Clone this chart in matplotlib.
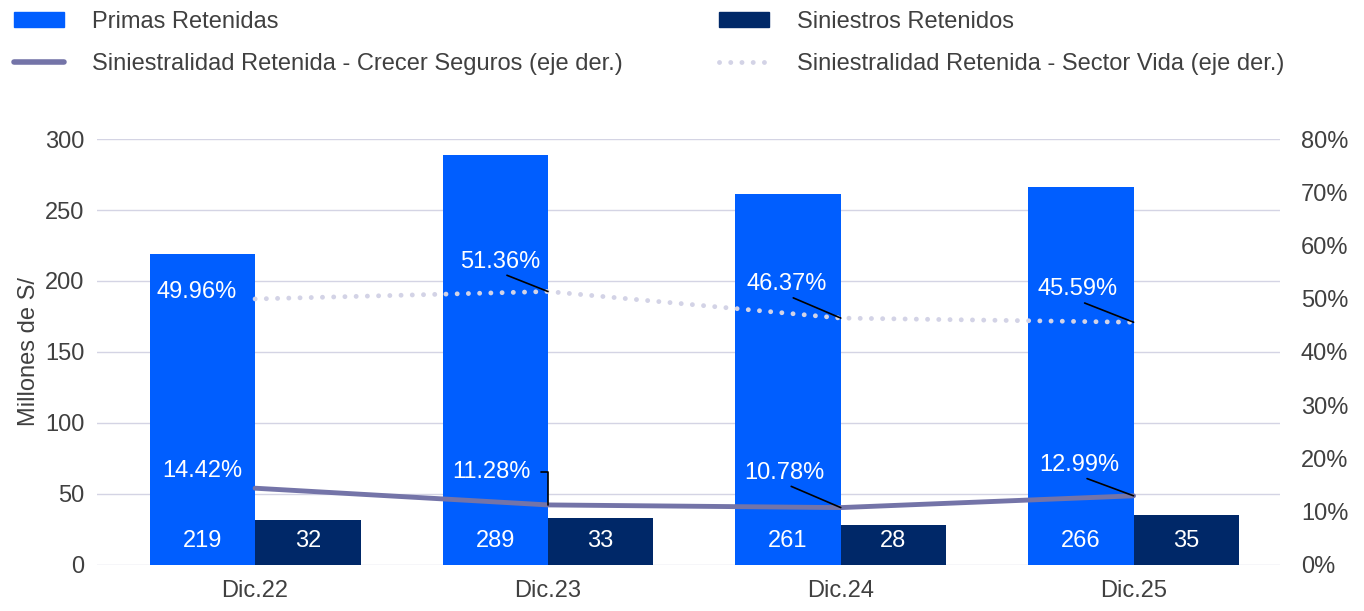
import matplotlib.pyplot as plt
from matplotlib.lines import Line2D
from matplotlib.patches import Patch
import numpy as np

plt.rcParams['font.family'] = ['Liberation Sans', 'DejaVu Sans']

# Data
periodos = ["Dic.22", "Dic.23", "Dic.24", "Dic.25"]
primas = [219, 289, 261, 266]
siniestros = [32, 33, 28, 35]
sin_crecer = [14.42, 11.28, 10.78, 12.99]
sin_sector = [49.96, 51.36, 46.37, 45.59]

c_primas = '#005EFF'
c_sini = '#002868'
c_crecer = '#7474A8'
c_sector = '#D3D3E6'
c_text = '#404040'
c_grid = '#D4D4E4'
fs = 17

fig = plt.figure(figsize=(13.64, 6.11), dpi=100)
ax = fig.add_axes([0.0711, 0.0753, 0.8673, 0.6972])
ax2 = ax.twinx()

x = np.arange(len(periodos))
w = 0.36
ax.bar(x - w / 2, primas, w, color=c_primas, zorder=2)
ax.bar(x + w / 2, siniestros, w, color=c_sini, zorder=2)

for xi, v in zip(x - w / 2, primas):
    ax.annotate(str(v), (xi, 0), xytext=(0, 24), textcoords='offset pixels',
                ha='center', va='center', color='white', fontsize=fs)
for xi, v in zip(x + w / 2, siniestros):
    ax.annotate(str(v), (xi, 0), xytext=(0, 24), textcoords='offset pixels',
                ha='center', va='center', color='white', fontsize=fs)

ax.set_xlim(-0.54, 3.5)
ax.set_ylim(0, 300)
ax.set_yticks(range(0, 301, 50))
ax.grid(axis='y', color=c_grid, linewidth=1, zorder=0)
ax.set_axisbelow(True)
ax.set_xticks(x)
ax.set_xticklabels(periodos)
ax.set_ylabel('Millones de S/', fontsize=fs, color=c_text, labelpad=4)

# lines on right axis
ax2.plot(x, sin_crecer, color=c_crecer, linewidth=3.5, solid_capstyle='round', zorder=3)
ax2.plot(x, sin_sector, color=c_sector, linewidth=3.5, linestyle=(0, (0.01, 2.3)),
         dash_capstyle='round', zorder=3)
ax2.set_ylim(0, 80)
ax2.set_yticks(range(0, 81, 10))
ax2.set_yticklabels([f'{t}%' for t in range(0, 81, 10)])

for a in (ax, ax2):
    for s in a.spines.values():
        s.set_visible(False)
    a.tick_params(length=0, labelsize=fs, labelcolor=c_text)
ax.tick_params(axis='y', pad=9)
ax2.tick_params(axis='y', pad=15)
ax.tick_params(axis='x', pad=11)

# percentage labels (offsets in pixels)
sector_off = [(-58, 7), (-48, 30), (-54, 34), (-56, 33)]
crecer_off = [(-53, 17), (-56, 33), (-56, 35), (-54, 31)]
for i, v in enumerate(sin_sector):
    dx, dy = sector_off[i]
    ap = None if i == 0 else dict(arrowstyle='-', color='black', lw=1.2,
                                  shrinkA=0, shrinkB=0, relpos=(0.5, 0))
    ax2.annotate(f'{v:.2f}%', (x[i], v), xytext=(dx, dy), textcoords='offset pixels',
                 ha='center', va='center', color='white', fontsize=fs,
                 arrowprops=ap, zorder=4)
for i, v in enumerate(sin_crecer):
    dx, dy = crecer_off[i]
    if i == 0:
        ap = None
    elif i == 1:
        ap = dict(arrowstyle='-', color='black', lw=1.2, shrinkA=5, shrinkB=0,
                  relpos=(1, 0.5), connectionstyle='angle,angleA=0,angleB=90,rad=0')
    else:
        ap = dict(arrowstyle='-', color='black', lw=1.2, shrinkA=0, shrinkB=0,
                  relpos=(0.5, 0))
    ax2.annotate(f'{v:.2f}%', (x[i], v), xytext=(dx, dy), textcoords='offset pixels',
                 ha='center', va='center', color='white', fontsize=fs,
                 arrowprops=ap, zorder=4)

handles = [
    Patch(color=c_primas, label='Primas Retenidas'),
    Line2D([], [], color=c_crecer, lw=4, solid_capstyle='round',
           label='Siniestralidad Retenida - Crecer Seguros (eje der.)'),
    Patch(color=c_sini, label='Siniestros Retenidos'),
    Line2D([], [], color=c_sector, lw=3.5, linestyle=(0, (0.01, 2.3)), dash_capstyle='round',
           label='Siniestralidad Retenida - Sector Vida (eje der.)'),
]
leg = fig.legend(handles=handles, ncol=2, loc='upper left', bbox_to_anchor=(-0.005, 1.017),
                 frameon=False, fontsize=fs, handlelength=2.1, handleheight=0.6,
                 handletextpad=1.2, columnspacing=4.07, labelspacing=0.85, labelcolor=c_text)

fig.savefig('out.png', dpi=100)
